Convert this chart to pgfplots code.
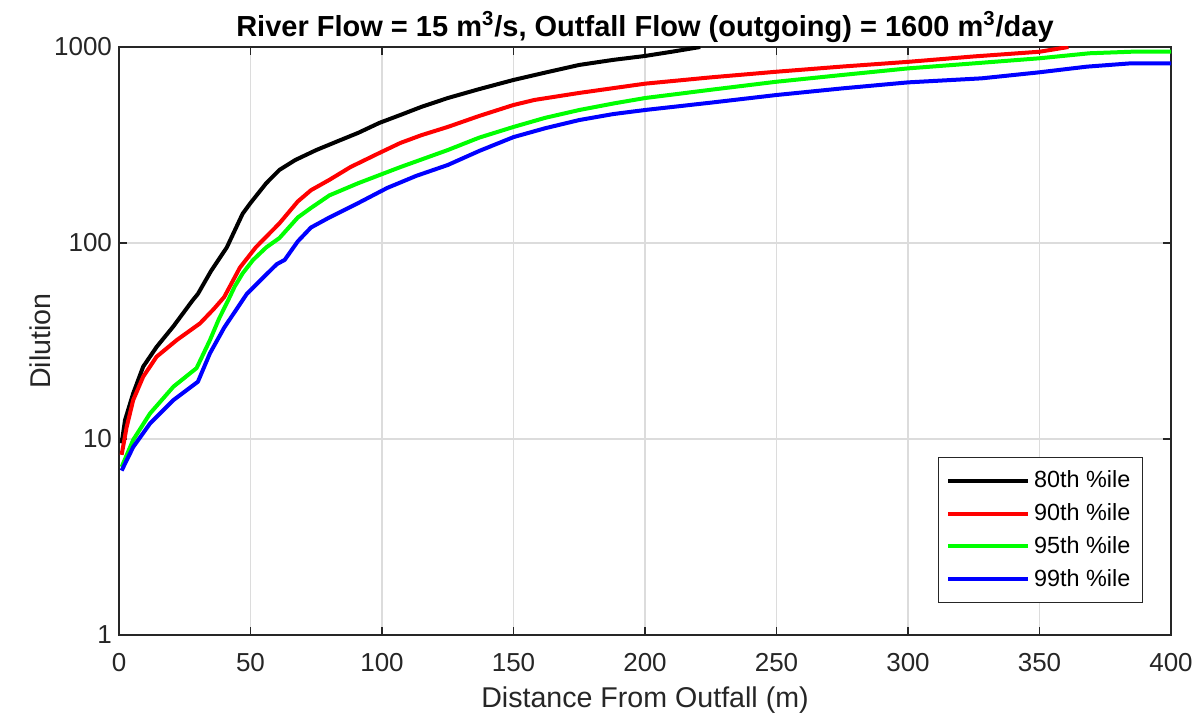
\documentclass[border=0pt]{standalone}
\usepackage{fontspec}
\setmainfont{Liberation Sans}
\usepackage{pgfplots}
\pgfplotsset{compat=1.18}
\definecolor{axgray}{HTML}{262626}
\definecolor{gridgray}{HTML}{DCDCDC}
\newcommand{\tickfont}{\fontsize{13}{15}\selectfont}
\newcommand{\labfont}{\fontsize{14.3}{17}\selectfont}

\begin{document}
\begin{tikzpicture}
\begin{axis}[name=ax, scale only axis, width=526pt, height=294pt,
  ymode=log, xmin=0, xmax=400, ymin=1, ymax=1000,
  xtick={0,50,...,400}, ytick={1,10,100,1000}, yticklabels={1,10,100,1000},
  yminorticks=false,
  /pgf/number format/assume math mode=true,
  tick align=inside, major tick length=4pt,
  axis line style={axgray, line width=0.6pt},
  tick style={axgray, line width=0.6pt},
  grid=major, major grid style={gridgray, line width=0.6pt},
  ticklabel style={font=\tickfont, text=axgray},
  xticklabel style={anchor=base, yshift=-18pt},
  title={\bfseries River Flow = 15 m\textsuperscript{3}/s, Outfall Flow (outgoing) = 1600 m\textsuperscript{3}/day},
  every axis title/.style={font=\fontsize{14.5}{17}\selectfont, at={(axis description cs:0.5,1)}, anchor=base, yshift=5.5pt},
  xlabel={Distance From Outfall (m)},
  ylabel={Dilution},
  every axis x label/.style={at={(axis description cs:0.5,-0.1241)}, anchor=base, font=\labfont, text=axgray},
  every axis y label/.style={at={(axis description cs:-0.0751,0.5)}, rotate=90, anchor=center, font=\labfont, text=axgray},
  legend style={at={(1,0)}, anchor=south east, xshift=-14pt, yshift=16pt,
    draw=axgray, line width=0.6pt, font=\fontsize{11.7}{14}\selectfont,
    row sep=2.5pt, inner xsep=4pt, inner ysep=4.5pt},
  legend cell align=left,
  legend image code/.code={\draw[#1] (0pt,0pt) -- (40pt,0pt);},
  every axis plot/.append style={line width=2pt, line join=round},
]
% 80th percentile
\addplot[black] coordinates {
  (1,9.5) (2.3,12.5) (5.4,17.1) (9.2,23.4) (14.3,29.5) (20.7,37.6) (28,51) (30,55)
  (35,72) (41,95) (47,141) (50,160) (56,202) (61,236) (67,265) (75,298) (83,330)
  (91,365) (99,410) (107,450) (115,495) (125,549) (137,610) (150,679) (162,740)
  (175,810) (188,860) (200,900) (210,945) (221,1000)};
\addlegendentry{80th \%ile}
% 90th percentile
\addplot[red] coordinates {
  (1,8.3) (2.9,11.5) (5.4,15.8) (9.2,20.8) (14.3,26.3) (22,32) (30.8,38.9) (36,46)
  (40,53) (46,75) (52,95) (61,126) (68,163) (73,186) (80,210) (88,244) (99,288)
  (107,324) (115,355) (125,391) (137,445) (150,506) (158,537) (175,583) (200,650)
  (225,700) (250,748) (275,795) (300,840) (325,895) (350,946) (361,1000)};
\addlegendentry{90th \%ile}
% 95th percentile
\addplot[green] coordinates {
  (1,7.2) (5.4,9.9) (11.8,13.5) (20.7,18.5) (29.5,23) (34.6,32) (38,41) (41.5,51)
  (44,60) (47,70) (51,82) (56,95) (61,106) (68,135) (73,151) (80,175) (91,202)
  (99,222) (107,244) (125,298) (137,345) (150,391) (162,435) (175,477) (188,515)
  (200,549) (225,605) (250,665) (275,720) (300,778) (325,825) (350,876) (369,929)
  (385,946) (400,946)};
\addlegendentry{95th \%ile}
% 99th percentile
\addplot[blue] coordinates {
  (1,6.9) (5.4,9.1) (11.8,12) (20.7,15.8) (30,19.6) (34.6,27.4) (40,37) (48.6,55)
  (54,65) (60,78) (63,82) (68,102) (73,120) (80,135) (91,160) (102,191) (113,220)
  (125,250) (137,295) (150,347) (162,385) (175,424) (188,455) (200,477) (225,520)
  (250,569) (275,615) (300,660) (328,692) (350,743) (368,794) (385,826) (400,826)};
\addlegendentry{99th \%ile}
\end{axis}
\pgfresetboundingbox
\path[use as bounding box] ([shift={(-59.5pt,-42pt)}]ax.south west) rectangle ([shift={(16pt,23.5pt)}]ax.north east);
\end{tikzpicture}
\end{document}
